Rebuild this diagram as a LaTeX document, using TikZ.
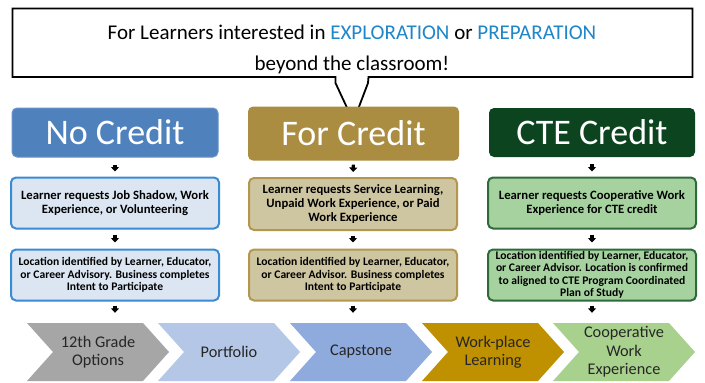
\documentclass[tikz,border=0pt]{standalone}
\usepackage{fontspec}
\setmainfont{Carlito}
\usetikzlibrary{arrows.meta}
\definecolor{hl}{HTML}{1F86C8}
\definecolor{noc}{HTML}{4F81BD}
\definecolor{forc}{HTML}{AB8D42}
\definecolor{ctec}{HTML}{0D4420}
\definecolor{nofill}{HTML}{DCE6F2}
\definecolor{nodraw}{HTML}{3A8AD4}
\definecolor{forfill}{HTML}{CEC5A1}
\definecolor{fordraw}{HTML}{B3974E}
\definecolor{ctefill}{HTML}{A6D2A0}
\definecolor{ctedraw}{HTML}{2F6B3A}
\definecolor{chgray}{HTML}{A6A6A6}
\definecolor{chport}{HTML}{B4C7E7}
\definecolor{chcap}{HTML}{8FAADC}
\definecolor{chwork}{HTML}{BF9000}
\definecolor{chcoop}{HTML}{A9D18E}
\definecolor{chtext}{HTML}{262626}
\tikzset{
  headbox/.style={rounded corners=5pt, text=white, font=\fontsize{36}{40}\selectfont, inner sep=0pt, minimum width=206pt, minimum height=49pt},
  stepbox/.style={rounded corners=5pt, line width=2pt, align=center, inner sep=0pt, minimum width=208pt, minimum height=51pt, font=\bfseries\fontsize{12.7}{14.3}\selectfont},
  locbox/.style={stepbox, font=\bfseries\fontsize{11.6}{12.4}\selectfont},
  blk/.style={line width=3.2pt, -{Triangle[width=8pt,length=4.5pt]}},
  chevlabel/.style={align=center, text=chtext, inner sep=0pt, minimum width=142pt, minimum height=58pt, font=\fontsize{16.3}{18.5}\selectfont}
}
\newcommand\chevshape[2]{\fill[#2] (#1,323) -- ++(116,0) -- ++(26,29) -- ++(-26,29) -- ++(-116,0) -- ++(26,-29) -- cycle;}
\begin{document}
\begin{tikzpicture}[x=1pt,y=-1pt]
\useasboundingbox[fill=white] (0,0) rectangle (705,383);
% callout
\draw[line width=1.8pt, fill=white, line join=miter] (12.5,8.5) -- (692.5,8.5) -- (692.5,77) -- (368.5,77) -- (368,83) -- (357,112) -- (349,112) -- (335.5,83) -- (335.5,77) -- (12.5,77) -- cycle;
\node[align=center, font=\fontsize{21}{31}\selectfont, inner sep=0pt] (call) at (352,49) {For Learners interested in \textcolor{hl}{EXPLORATION} or \textcolor{hl}{PREPARATION}\\beyond the classroom!};
% headers
\node[headbox, fill=noc, draw=noc!85!white, line width=1pt] (nh) at (115,132.5) {No Credit};
\node[headbox, fill=forc, minimum width=211pt, minimum height=54pt] (fh) at (353.5,133.5) {For Credit};
\node[headbox, fill=ctec] (ch) at (592,132.5) {CTE Credit};
% request boxes
\node[stepbox, fill=nofill, draw=nodraw] (n1) at (115,203) {Learner requests Job Shadow, Work\\Experience, or Volunteering};
\node[stepbox, fill=forfill, draw=fordraw, minimum height=52pt] (f1) at (353,204) {Learner requests Service Learning,\\Unpaid Work Experience, or Paid\\Work Experience};
\node[stepbox, fill=ctefill, draw=ctedraw] (c1) at (592,203) {Learner requests Cooperative Work\\Experience for CTE credit};
% location boxes
\node[locbox, fill=nofill, draw=nodraw] (n2) at (115,275) {Location identified by Learner, Educator,\\or Career Advisory. Business completes\\Intent to Participate};
\node[locbox, fill=forfill, draw=fordraw] (f2) at (353,275) {Location identified by Learner, Educator,\\or Career Advisor. Business completes\\Intent to Participate};
\node[locbox, fill=ctefill, draw=ctedraw] (c2) at (592,275) {Location identified by Learner, Educator,\\or Career Advisor. Location is confirmed\\to aligned to CTE Program Coordinated\\Plan of Study};
% chevrons
\chevshape{27}{chgray}
\chevshape{158}{chport}
\chevshape{290}{chcap}
\chevshape{422}{chwork}
\chevshape{553}{chcoop}
\node[chevlabel] (g1) at (98,352) {12th Grade\\Options};
\node[chevlabel] (g2) at (229,352) {Portfolio};
\node[chevlabel] (g3) at (361,352) {Capstone};
\node[chevlabel] (g4) at (493,352) {Work-place\\Learning};
\node[chevlabel] (g5) at (624,352) {Cooperative\\Work\\Experience};
% small arrows
\draw[blk, shorten <=7pt, shorten >=5pt] (nh.south) -- (n1.north);
\draw[blk, shorten <=4pt, shorten >=5pt] (fh.south) -- (f1.north);
\draw[blk, shorten <=7pt, shorten >=5pt] (ch.south) -- (c1.north);
\draw[blk, shorten <=5pt, shorten >=6pt] (n1.south) -- (n2.north);
\draw[blk, shorten <=5pt, shorten >=6pt] (f1.south) -- (f2.north);
\draw[blk, shorten <=5pt, shorten >=6pt] (c1.south) -- (c2.north);
\coordinate (a1) at (n2.south |- g1.north);
\coordinate (a3) at (f2.south |- g3.north);
\coordinate (a5) at (c2.south |- g5.north);
\draw[blk, shorten <=4pt, shorten >=10pt] (n2.south) -- (a1);
\draw[blk, shorten <=4pt, shorten >=10pt] (f2.south) -- (a3);
\draw[blk, shorten <=4pt, shorten >=10pt] (c2.south) -- (a5);
\end{tikzpicture}
\end{document}
